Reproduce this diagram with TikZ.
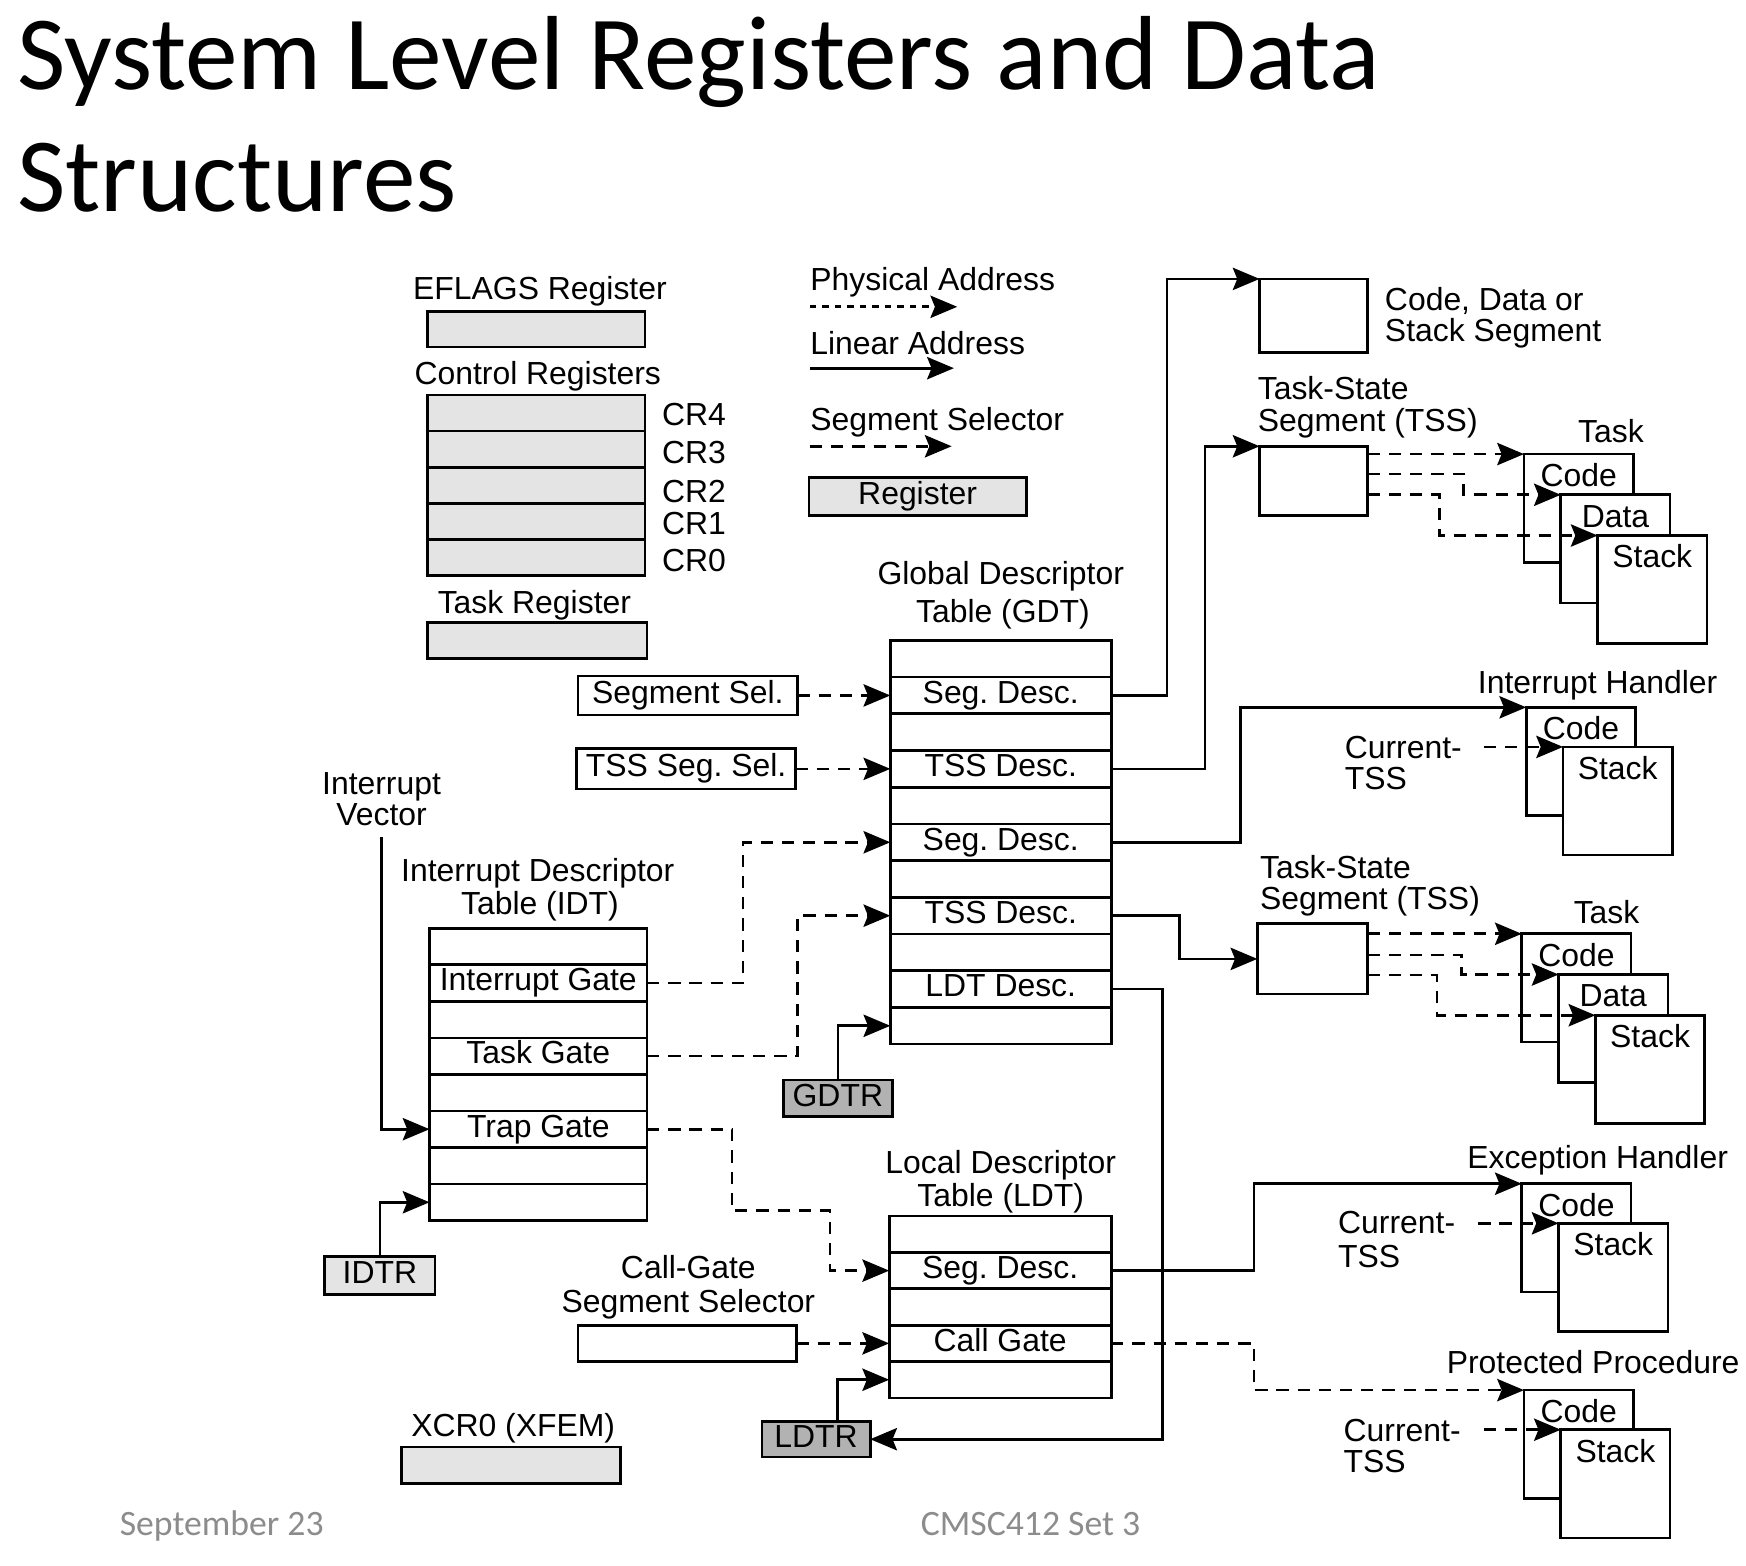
\documentclass[tikz,border=0pt]{standalone}
\usepackage{fontspec}
\setmainfont{Liberation Sans}
\newfontfamily\calib{Carlito}
\usetikzlibrary{arrows.meta,calc}
\definecolor{reglt}{HTML}{E4E4E4}
\definecolor{regdk}{HTML}{B2B2B2}
\definecolor{foot}{HTML}{8C8C8C}
\newcommand\tristack[3]{%
 \node[segbox,anchor=north west] (#1c) at (#2,#3) {};
 \node[segbox,anchor=north west] (#1d) at (#2+33,#3+36.5) {};
 \node[segbox,anchor=north west] (#1s) at (#2+66,#3+73) {};
 \node[txt] (#1ct) at (#2+49,#3+29) {Code};
 \node[txt] (#1dt) at (#2+82,#3+65.5) {Data};
 \node[txt] (#1st) at (#2+115,#3+102) {Stack};}
\newcommand\duostack[3]{%
 \node[segbox,anchor=north west] (#1c) at (#2,#3) {};
 \node[segbox,anchor=north west] (#1s) at (#2+33,#3+35.5) {};
 \node[txt] (#1ct) at (#2+49,#3+29) {Code};
 \node[txt] (#1st) at (#2+82,#3+64.5) {Stack};}
\begin{document}
\begin{tikzpicture}[x=0.5pt,y=-0.5pt,
  every node/.style={font=\fontsize{14.3pt}{16pt}\selectfont\frenchspacing},
  txt/.style={anchor=base,inner sep=0pt},
  txtl/.style={anchor=base west,inner sep=0pt},
  boxb/.style={draw,line width=1.2pt,inner sep=0pt,outer sep=0pt,text height=10pt,text depth=3pt},
  row/.style={boxb,anchor=north west},
  gdtrow/.style={row,minimum width=99pt,minimum height=16.45pt},
  idtrow/.style={row,minimum width=97.5pt,minimum height=16.375pt},
  ldtrow/.style={row,minimum width=99.5pt,minimum height=16.3pt},
  crrow/.style={row,fill=reglt,minimum width=97.5pt,minimum height=16.2pt},
  reglt/.style={boxb,fill=reglt},
  regdk/.style={boxb,fill=regdk},
  plain/.style={boxb},
  segbox/.style={boxb,fill=white,minimum width=49pt,minimum height=48.5pt},
  lin/.style={line width=1.2pt,-{Stealth[length=12pt,width=10pt,inset=2pt]}},
  dsh/.style={lin,dash pattern=on 5.5pt off 4pt},
  dotl/.style={lin,dash pattern=on 2.8pt off 2.8pt},
]
\useasboundingbox (0,0) rectangle (1565,1403);

% title and footer
\node[anchor=base west,inner sep=0pt,font=\calib\fontsize{47.2pt}{50pt}\selectfont] (title1) at (15,80) {System Level Registers and Data};
\node[anchor=base west,inner sep=0pt,font=\calib\fontsize{47.2pt}{50pt}\selectfont] (title2) at (15,190) {Structures};
\node[anchor=base west,inner sep=0pt,text=foot,font=\calib\fontsize{16pt}{18pt}\selectfont] (foot1) at (107,1376) {September 23};
\node[anchor=base west,inner sep=0pt,text=foot,font=\calib\fontsize{16pt}{18pt}\selectfont] (foot2) at (825,1376) {CMSC412 Set 3};

% system registers
\node[txt] (lefl) at (484,268) {EFLAGS Register};
\node[reglt,anchor=north west,minimum width=97.5pt,minimum height=16pt] (efl) at (383,279) {};
\node[txt] (lcr) at (482,345) {Control Registers};
\foreach \i in {1,...,5} \node[crrow] (cr\i) at (383,{354+(\i-1)*32.4}) {};
\node[txtl] (lcr4) at (593,381) {CR4};
\node[txtl] (lcr3) at (593,415) {CR3};
\node[txtl] (lcr2) at (593,450) {CR2};
\node[txtl] (lcr1) at (593,479) {CR1};
\node[txtl] (lcr0) at (593,512) {CR0};
\node[txt] (ltr) at (479,550) {Task Register};
\node[reglt,anchor=north west,minimum width=98.5pt,minimum height=16pt] (tr) at (383,558) {};

% legend
\node[txtl] (lpa) at (726,260) {Physical Address};
\coordinate (pa0) at (726,275); \coordinate (pa1) at (858,275);
\draw[dotl] (pa0) -- (pa1);
\node[txtl] (lla) at (726,318) {Linear Address};
\coordinate (la0) at (726,330); \coordinate (la1) at (855,330);
\draw[lin] (la0) -- (la1);
\node[txtl] (lss) at (726,386) {Segment Selector};
\coordinate (ss0) at (726,400); \coordinate (ss1) at (853,400);
\draw[dsh] (ss0) -- (ss1);
\node[reglt,anchor=north west,minimum width=97.5pt,minimum height=17pt] (legreg) at (725,428) {Register};

% GDT
\node[txt] (lgdt1) at (897,524) {Global Descriptor};
\node[txt] (lgdt2) at (899,558) {Table (GDT)};
\foreach \i/\t in {1/{},2/{Seg. Desc.},3/{},4/{TSS Desc.},5/{},6/{Seg. Desc.},7/{},8/{TSS Desc.},9/{},10/{LDT Desc.},11/{}}
  \node[gdtrow] (gdt\i) at (798,{574+(\i-1)*32.9}) {\t};

\node[plain,anchor=east,minimum width=98.5pt,minimum height=17.5pt] (ssel) at ($(gdt2.west)+(-83,0)$) {Segment Sel.};
\node[plain,anchor=east,minimum width=98pt,minimum height=18pt] (tsel) at ($(gdt4.west)+(-85,0)$) {TSS Seg. Sel.};
\draw[dsh] (ssel.east) -- (gdt2.west);
\draw[dsh] (tsel.east) -- (gdt4.west);

\node[regdk,anchor=north west,minimum width=49pt,minimum height=16.5pt] (gdtr) at (702,968) {GDTR};
\draw[lin] (gdtr.north) |- (gdt11.west);

% IDT
\node[txt] (liv1) at (342,712) {Interrupt};
\node[txt] (liv2) at (342,740) {Vector};
\node[txt] (lidt1) at (482,790) {Interrupt Descriptor};
\node[txt] (lidt2) at (484,820) {Table (IDT)};
\foreach \i/\t in {1/{},2/{Interrupt Gate},3/{},4/{Task Gate},5/{},6/{Trap Gate},7/{},8/{}}
  \node[idtrow] (idt\i) at (385,{832+(\i-1)*32.75}) {\t};
\coordinate (iv) at (342,750);
\draw[lin] (iv) |- (idt6.west);
\node[reglt,anchor=north west,minimum width=49.5pt,minimum height=17pt] (idtr) at (291,1126) {IDTR};
\draw[lin] (idtr.north) |- (idt8.west);

\draw[dsh] (idt2.east) -- ++(86,0) |- (gdt6.west);
\draw[dsh] (idt4.east) -- ++(135,0) |- (gdt8.west);

% LDT
\node[txt] (lldt1) at (897,1052) {Local Descriptor};
\node[txt] (lldt2) at (897,1081) {Table (LDT)};
\foreach \i/\t in {1/{},2/{Seg. Desc.},3/{},4/{Call Gate},5/{}}
  \node[ldtrow] (ldt\i) at (797,{1090+(\i-1)*32.6}) {\t};
\draw[dsh] (idt6.east) -- ++(76,0) -- ++(0,73) -- ++(88,0) |- (ldt2.west);

\node[txt] (lcg1) at (617,1146) {Call-Gate};
\node[txt] (lcg2) at (617,1176) {Segment Selector};
\node[plain,anchor=east,minimum width=98pt,minimum height=16pt] (cgsel) at ($(ldt4.west)+(-83,0)$) {};
\draw[dsh] (cgsel.east) -- (ldt4.west);

\node[regdk,anchor=north west,minimum width=48.5pt,minimum height=16pt] (ldtr) at (683,1274) {LDTR};
\draw[lin] ($(ldtr.north)+(19,0)$) |- (ldt5.west);
\draw[lin] (gdt10.east) -- ++(46,0) |- (ldtr.east);

\node[txt] (lx) at (460,1288) {XCR0 (XFEM)};
\node[reglt,anchor=north west,minimum width=98pt,minimum height=16.5pt] (xcr) at (360,1297) {};

% right side: segments
\node[plain,anchor=north west,minimum width=48.5pt,minimum height=33pt] (cds) at (1129,250) {};
\node[txtl] (lcds1) at (1241,278) {Code, Data or};
\node[txtl] (lcds2) at (1241,306) {Stack Segment};
\draw[lin] (gdt2.east) -- ++(50,0) |- (cds.north west);

% TSS 1
\node[txtl] (lt1a) at (1127,358) {Task-State};
\node[txtl] (lt1b) at (1127,387) {Segment (TSS)};
\node[plain,anchor=north west,minimum width=48.5pt,minimum height=31pt] (tss1) at (1129,400) {};
\draw[lin] (gdt4.east) -- ++(84,0) |- (tss1.north west);
\node[txt] (ltask1) at (1444,397) {Task};
\tristack{ta}{1366}{407}
\draw[dsh] (tss1.east |- tac.north west) -- (tac.north west);
\draw[dsh] ($(tss1.north east)+(0,25)$) -- ++(86,0) |- (tad.north west);
\draw[dsh] ($(tss1.north east)+(0,43)$) -- ++(64,0) |- (tas.north west);

% Interrupt handler
\node[txt] (lih) at (1432,622) {Interrupt Handler};
\duostack{ih}{1368}{634}
\draw[lin] (gdt6.east) -- ++(116,0) |- (ihc.north west);
\node[txtl] (lc1a) at (1205,680) {Current-};
\node[txtl] (lc1b) at (1205,708) {TSS};
\coordinate (c1) at ($(ihs.north west)+(-71,0)$);
\draw[dsh] (c1) -- (ihs.north west);

% TSS 2
\node[txtl] (lt2a) at (1129,787) {Task-State};
\node[txtl] (lt2b) at (1129,815) {Segment (TSS)};
\node[plain,anchor=north west,minimum width=49.5pt,minimum height=31.5pt] (tss2) at (1127,828) {};
\draw[lin] (gdt8.east) -- ++(61,0) |- (tss2.west);
\node[txt] (ltask2) at (1440,828) {Task};
\tristack{tb}{1364}{837}
\draw[dsh] (tss2.east |- tbc.north west) -- (tbc.north west);
\draw[dsh] ($(tss2.north east)+(0,28)$) -- ++(84,0) |- (tbd.north west);
\draw[dsh] ($(tss2.north east)+(0,46)$) -- ++(62,0) |- (tbs.north west);

% Exception handler
\node[txt] (leh) at (1432,1047) {Exception Handler};
\duostack{eh}{1364}{1061}
\draw[lin] (ldt2.east) -- ++(128,0) |- (ehc.north west);
\node[txtl] (lc2a) at (1199,1106) {Current-};
\node[txtl] (lc2b) at (1199,1136) {TSS};
\coordinate (c2) at ($(ehs.north west)+(-72,0)$);
\draw[dsh] (c2) -- (ehs.north west);

% Protected procedure
\node[txt] (lpp) at (1428,1231) {Protected Procedure};
\duostack{pp}{1366}{1246}
\draw[dsh] (ldt4.east) -- ++(128,0) |- (ppc.north west);
\node[txtl] (lc3a) at (1204,1292) {Current-};
\node[txtl] (lc3b) at (1204,1320) {TSS};
\coordinate (c3) at ($(pps.north west)+(-69,0)$);
\draw[dsh] (c3) -- (pps.north west);
\end{tikzpicture}
\end{document}
